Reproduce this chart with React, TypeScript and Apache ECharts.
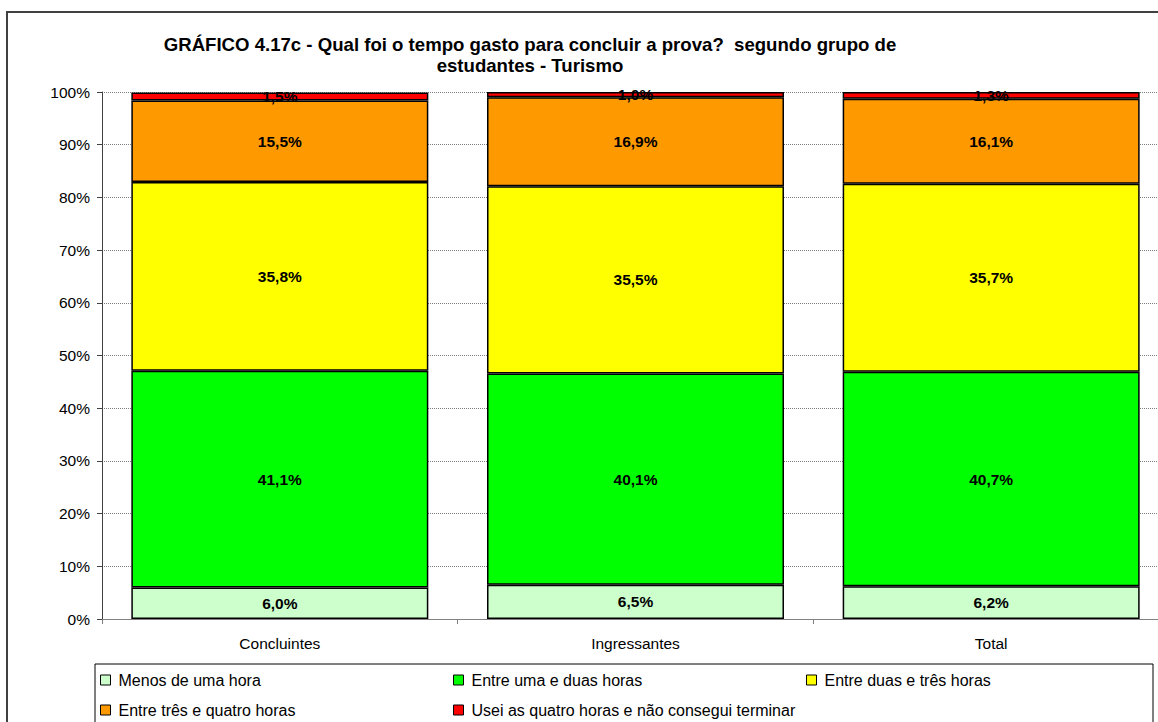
import React, { useEffect, useRef } from "react";
import * as echarts from "echarts";

const categories = ["Concluintes", "Ingressantes", "Total"];
const seriesNames = [
  "Menos de uma hora",
  "Entre uma e duas horas",
  "Entre duas e três horas",
  "Entre três e quatro horas",
  "Usei as quatro horas e não consegui terminar",
];
const menosDeUmaHora = [6.0, 6.5, 6.2];
const entreUmaEDuas = [41.1, 40.1, 40.7];
const entreDuasETres = [35.8, 35.5, 35.7];
const entreTresEQuatro = [15.5, 16.9, 16.1];
const naoTerminou = [1.5, 1.0, 1.3];
const seriesColors = ["#CCFFCC", "#00FF00", "#FFFF00", "#FF9900", "#FF0000"];
const yTicks = [0, 10, 20, 30, 40, 50, 60, 70, 80, 90, 100];

const FONT = "'Liberation Sans', Arial, sans-serif";

// legend slot positions (left, top) for each series
const legendSlots = [
  [100, 672],
  [453, 672],
  [806, 672],
  [100, 702],
  [453, 702],
];

export default function App() {
  const ref = useRef<HTMLDivElement>(null);
  useEffect(() => {
    if (!ref.current) return;
    const chart = echarts.init(ref.current, undefined, { renderer: "svg" });
    const values = [menosDeUmaHora, entreUmaEDuas, entreDuasETres, entreTresEQuatro, naoTerminou];
    chart.setOption({
      animation: false,
      textStyle: { fontFamily: FONT },
      graphic: [
        {
          type: "rect",
          shape: { x: 7, y: 12, width: 1200, height: 730 },
          style: { fill: "none", stroke: "#404040", lineWidth: 2 },
          z: -10,
        },
        {
          type: "rect",
          shape: { x: 95, y: 664, width: 1058, height: 80 },
          style: { fill: "none", stroke: "#000", lineWidth: 1 },
        },
        {
          type: "text",
          x: 530,
          y: 34,
          style: {
            text: "GRÁFICO 4.17c - Qual foi o tempo gasto para concluir a prova?  segundo grupo de\nestudantes - Turismo",
            font: `bold 18.6px ${FONT}`,
            fill: "#000",
            align: "center",
            lineHeight: 21,
          },
        },
      ],
      legend: seriesNames.map((name, i) => ({
        left: legendSlots[i][0],
        top: legendSlots[i][1],
        padding: 0,
        itemWidth: 10,
        itemHeight: 10,
        itemGap: 0,
        icon: "rect",
        data: [name],
        itemStyle: { borderColor: "#000", borderWidth: 1 },
        textStyle: { fontSize: 16, color: "#000", fontFamily: FONT, padding: [0, 0, 0, 3] },
      })),
      grid: { left: 102, top: 92, width: 1067, height: 527, containLabel: false },
      xAxis: {
        type: "category",
        data: categories,
        axisLine: { lineStyle: { color: "#808080", width: 1 } },
        axisTick: { show: true, length: 5, lineStyle: { color: "#808080" } },
        axisLabel: { fontSize: 15.5, color: "#000", margin: 16, fontFamily: FONT },
      },
      yAxis: {
        type: "value",
        min: 0,
        max: 100,
        interval: 10,
        axisLine: { show: true, lineStyle: { color: "#404040", width: 1 } },
        axisTick: { show: true, length: 5, lineStyle: { color: "#404040" } },
        axisLabel: {
          fontSize: 15.5,
          color: "#000",
          margin: 12,
          fontFamily: FONT,
          formatter: (v: number) => (yTicks.includes(v) ? `${v}%` : ""),
        },
        splitLine: { show: true, lineStyle: { color: "#808080", type: [1, 1], width: 1 } },
      },
      series: values.map((vals, i) => ({
        name: seriesNames[i],
        type: "bar",
        stack: "total",
        barCategoryGap: "16.5%",
        data: vals,
        itemStyle: { color: seriesColors[i], borderColor: "#000", borderWidth: 1.5 },
        label: {
          show: true,
          position: "inside",
          color: "#000",
          fontWeight: "bold",
          fontSize: 15.5,
          fontFamily: FONT,
          formatter: (p: any) => `${Number(p.value).toFixed(1).replace(".", ",")}%`,
        },
      })),
    });
    return () => chart.dispose();
  }, []);
  return (
    <div style={{ position: "fixed", left: 0, top: 0, width: 1158, height: 722, background: "#fff", overflow: "hidden" }}>
      <div ref={ref} style={{ width: 1200, height: 722 }} />
    </div>
  );
}
